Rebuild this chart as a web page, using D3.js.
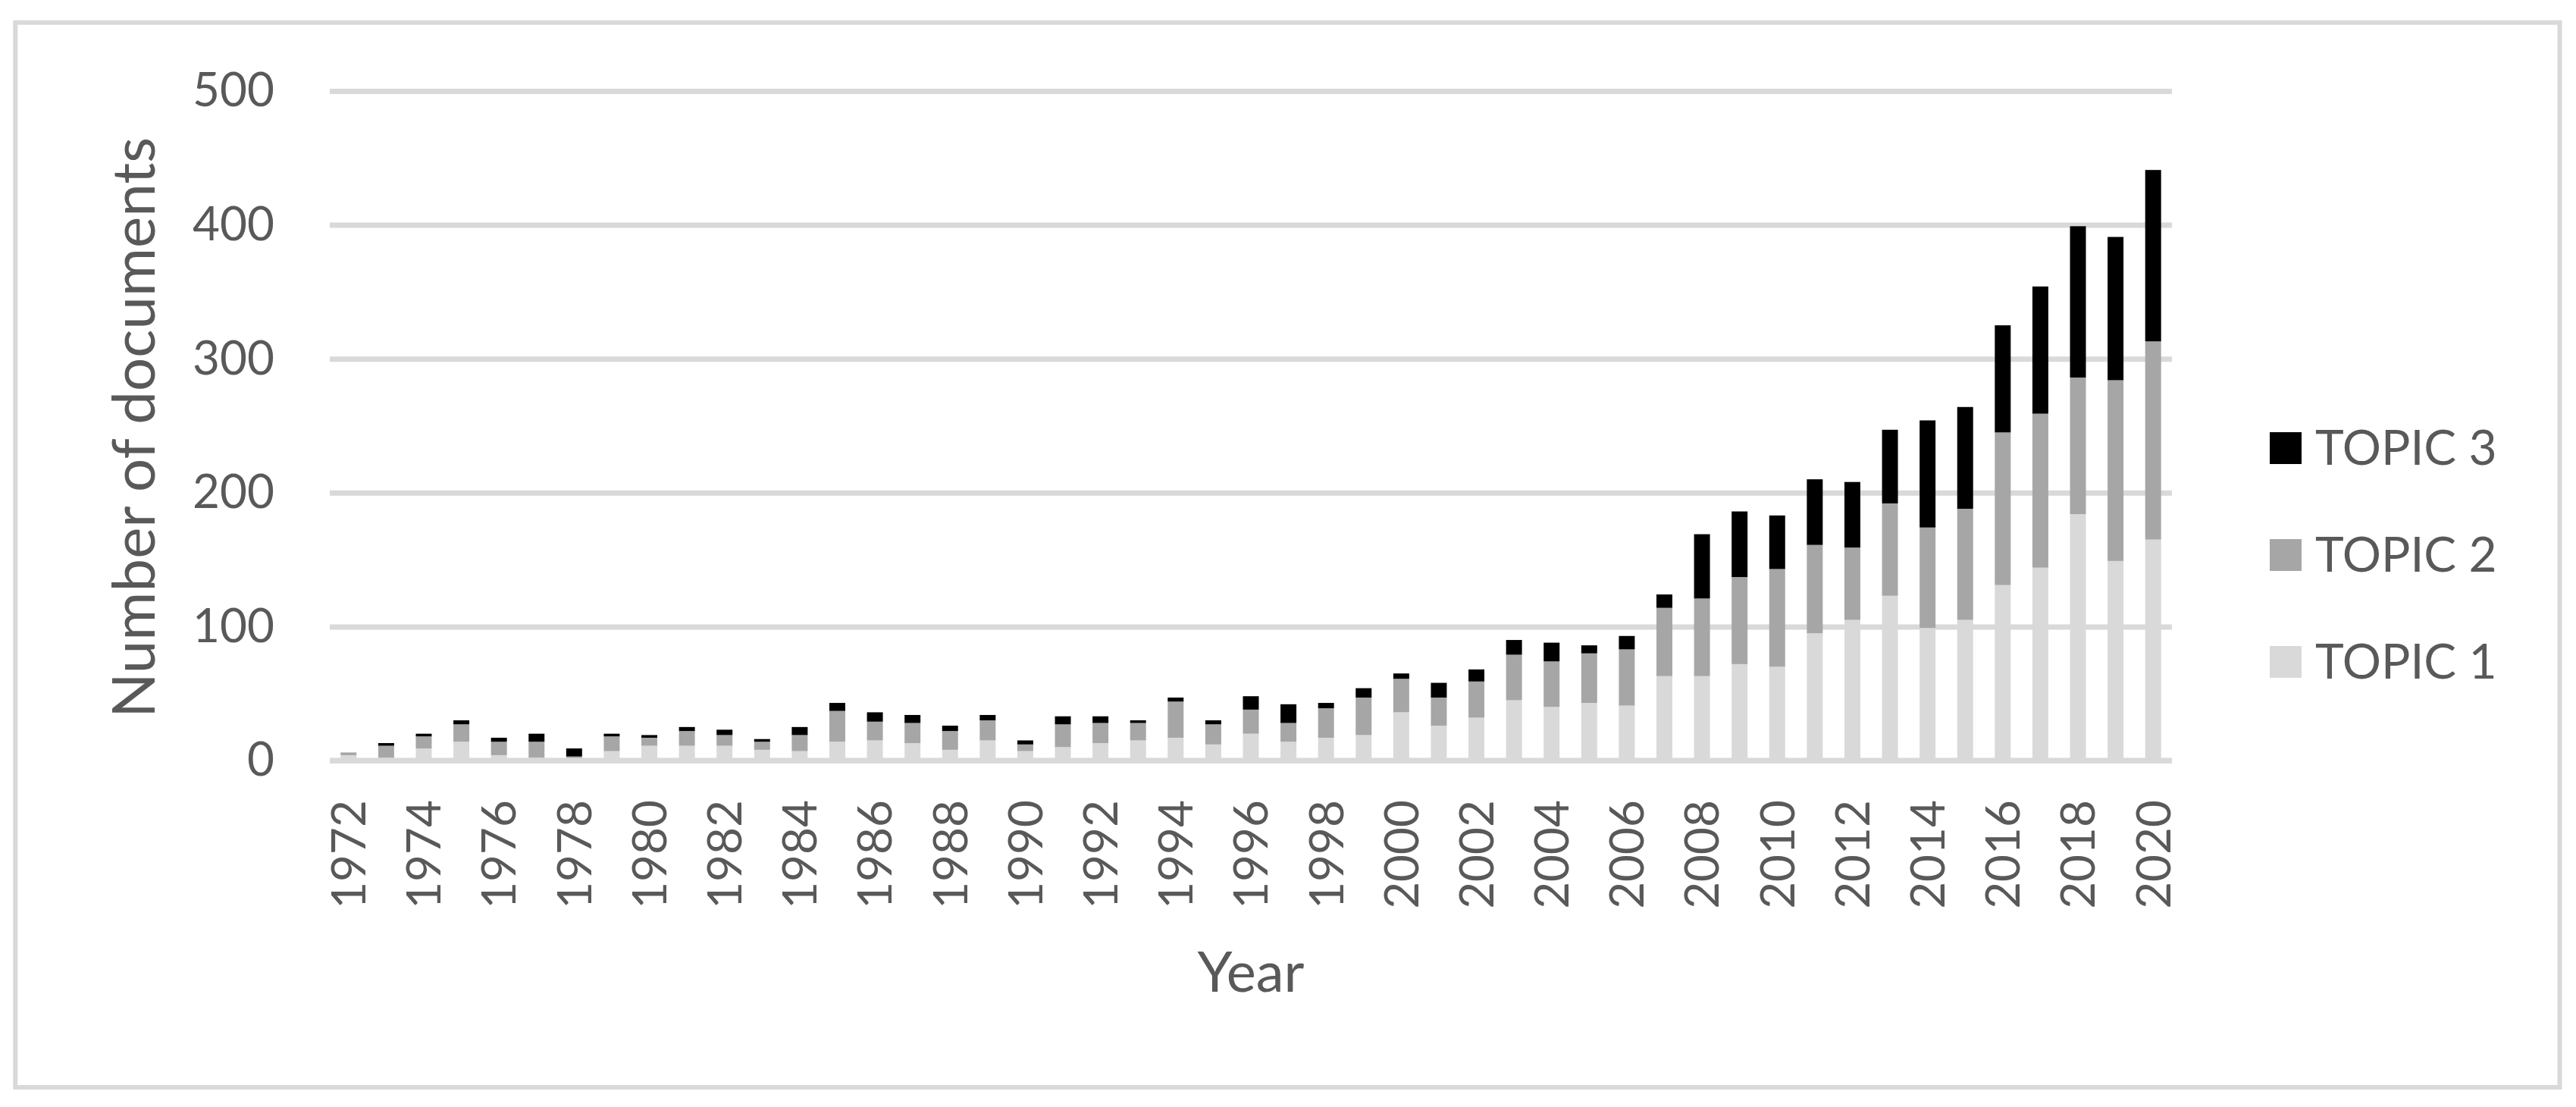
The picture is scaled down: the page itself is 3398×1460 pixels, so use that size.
<!DOCTYPE html>
<html>
<head>
<meta charset="utf-8">
<script src="https://cdn.jsdelivr.net/npm/d3@7"></script>
<style>
  html, body { margin: 0; padding: 0; background: #ffffff; }
  svg { display: block; }
</style>
</head>
<body>
<svg id="chart" width="3398" height="1460"></svg>
<script>
// ---- data ----
const years = d3.range(1972, 2021).map(String);
const topic1 = [4,2,9,14,4,2,1,7,11,11,11,8,7,14,15,13,8,15,7,
                10,13,15,17,12,20,14,17,19,36,26,32,45,40,43,
                41,63,63,72,70,95,105,123,99,105,131,144,184,149,165];
const topic2 = [2,9,9,13,10,12,2,11,6,11,8,6,12,23,14,15,14,15,5,
                17,15,13,27,15,18,14,22,28,25,21,27,34,34,37,
                42,51,58,65,73,66,54,69,75,83,114,115,102,135,148];
const topic3 = [0,2,2,3,3,6,6,2,2,3,4,2,6,6,7,6,4,4,3,
                6,5,2,3,3,10,14,4,7,4,11,9,11,14,6,
                10,10,48,49,40,49,49,55,80,76,80,95,113,107,128];
const seriesNames = ["TOPIC 1", "TOPIC 2", "TOPIC 3"];
const seriesColors = ["#d9d9d9", "#a6a6a6", "#000000"];
const yTicks = [0, 100, 200, 300, 400, 500];
const xTickYears = years.filter((d, i) => i % 2 === 0);

// ---- layout ----
const W = 3398, H = 1460;
const plot = { left: 435, right: 2865, top: 120, bottom: 1003 };
const textColor = "#595959";
const gridColor = "#d9d9d9";
const FONT = "Lato, 'Open Sans', sans-serif";

const svg = d3.select("#chart");
svg.append("rect").attr("x", 0).attr("y", 0).attr("width", W).attr("height", H).attr("fill", "#fff");
svg.append("rect")
  .attr("x", 20.3).attr("y", 29.7).attr("width", 3376.5 - 20.3).attr("height", 1434 - 29.7)
  .attr("fill", "none").attr("stroke", gridColor).attr("stroke-width", 6);

const x = d3.scaleBand().domain(years).range([plot.left, plot.right])
  .paddingInner(0.577).paddingOuter(0.577 / 2);
const y = d3.scaleLinear().domain([0, 500]).range([plot.bottom, plot.top]);

// stacked data
const table = years.map((yr, i) => ({ year: yr, t1: topic1[i], t2: topic2[i], t3: topic3[i] }));
const stack = d3.stack().keys(["t1", "t2", "t3"]);
const stacked = stack(table);

// y axis with gridlines (behind bars)
const yAxis = svg.append("g")
  .attr("transform", `translate(${plot.left},0)`)
  .call(d3.axisLeft(y).tickValues(yTicks).tickSize(-(plot.right - plot.left)).tickPadding(73));
yAxis.select(".domain").remove();
yAxis.selectAll(".tick line").attr("stroke", gridColor).attr("stroke-width", 7);
yAxis.selectAll(".tick text")
  .attr("fill", textColor).style("font-family", FONT).style("font-size", "62px");

// bars
svg.append("g").selectAll("g")
  .data(stacked)
  .join("g")
  .attr("fill", (d, i) => seriesColors[i])
  .selectAll("rect")
  .data(d => d)
  .join("rect")
  .attr("x", d => x(d.data.year))
  .attr("width", x.bandwidth())
  .attr("y", d => y(d[1]))
  .attr("height", d => Math.max(0, y(d[0]) - y(d[1])));

// zero axis line on top of bars
svg.append("line")
  .attr("x1", plot.left).attr("x2", plot.right)
  .attr("y1", y(0)).attr("y2", y(0))
  .attr("stroke", gridColor).attr("stroke-width", 7);

// x axis labels
const xAxis = svg.append("g")
  .attr("transform", `translate(0,${plot.bottom})`)
  .call(d3.axisBottom(x).tickValues(xTickYears).tickSize(0));
xAxis.select(".domain").remove();
xAxis.selectAll(".tick text")
  .attr("transform", "rotate(-90)")
  .attr("text-anchor", "end")
  .attr("x", -52).attr("y", 0).attr("dy", "0.36em")
  .attr("fill", textColor).style("font-family", FONT).style("font-size", "62px");

// axis titles
svg.append("text")
  .attr("x", (plot.left + plot.right) / 2).attr("y", 1308)
  .attr("text-anchor", "middle")
  .attr("fill", textColor).style("font-family", FONT).style("font-size", "74px")
  .text("Year");
svg.append("text")
  .attr("transform", "translate(204,564) rotate(-90)")
  .attr("text-anchor", "middle")
  .attr("fill", textColor).style("font-family", FONT).style("font-size", "78px")
  .text("Number of documents");

// legend (TOPIC 3 on top)
const legendItems = [2, 1, 0];
const legendY = [591, 732, 873];
const lg = svg.append("g");
legendItems.forEach((si, k) => {
  lg.append("rect")
    .attr("x", 2994).attr("y", legendY[k] - 21).attr("width", 42).attr("height", 42)
    .attr("fill", seriesColors[si]);
  lg.append("text")
    .attr("x", 3054).attr("y", legendY[k] + 22)
    .attr("fill", textColor).style("font-family", FONT).style("font-size", "64px")
    .text(seriesNames[si]);
});
</script>
</body>
</html>
